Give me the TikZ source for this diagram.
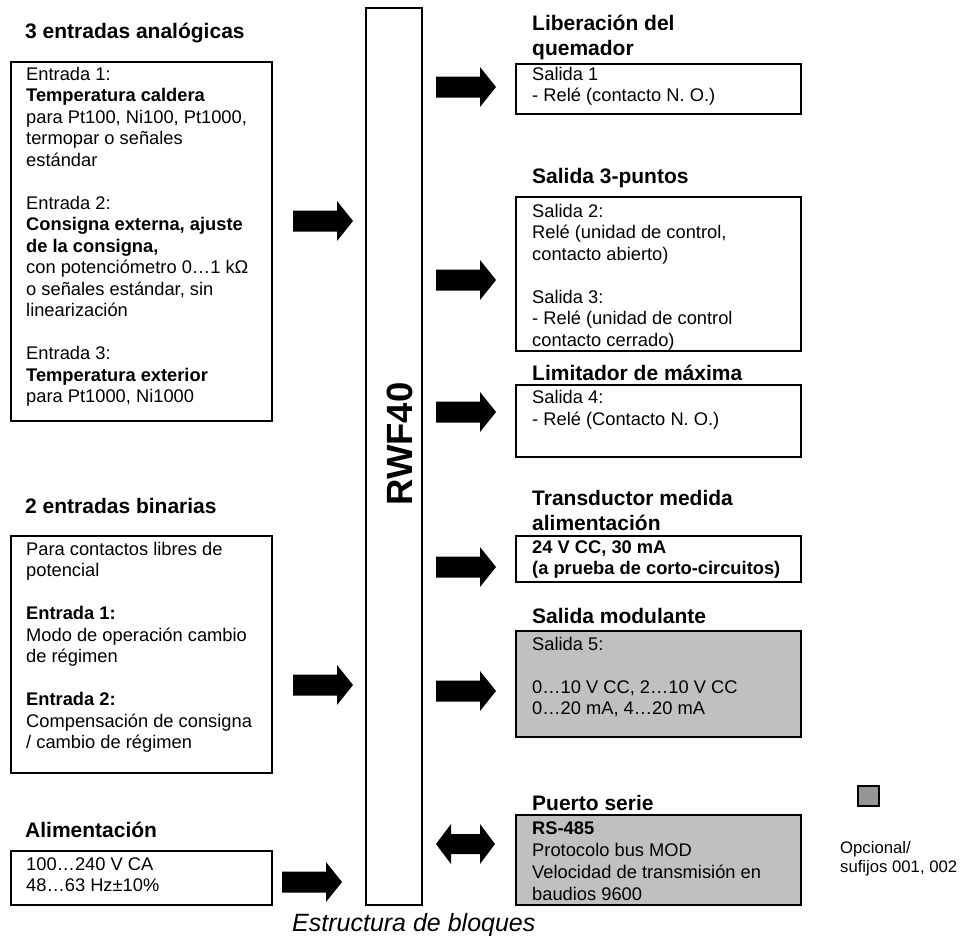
\documentclass[tikz,border=0pt]{standalone}
\usepackage{fontspec}
\setmainfont{Liberation Sans}
\definecolor{boxgrey}{RGB}{192,192,192}
\definecolor{leggrey}{RGB}{150,150,150}
\tikzset{
  blk/.style={draw=black, line width=2pt, inner sep=0pt, outer sep=0pt, anchor=north west},
  body/.style={font=\fontsize{18.3}{21.5}\selectfont, align=left, inner sep=0pt, anchor=north west},
  ttl/.style={font=\bfseries\fontsize{21}{24}\selectfont, inner sep=0pt, anchor=base west},
  barrow/.pic={\fill[black] (0,-10.5) -- (44,-10.5) -- (44,-20) -- (60,0) -- (44,20) -- (44,10.5) -- (0,10.5) -- cycle;},
  darrow/.pic={\fill[black] (0,0) -- (15,-20) -- (15,-10) -- (44,-10) -- (44,-20) -- (59,0) -- (44,20) -- (44,10) -- (15,10) -- (15,20) -- cycle;}
}
\begin{document}
\begin{tikzpicture}[x=1pt,y=-1pt]
\useasboundingbox (0,0) rectangle (971,935);

% boxes
\node[blk, minimum width=261pt, minimum height=359pt] (in1) at (11,62) {};
\node[blk, minimum width=261pt, minimum height=237pt] (in2) at (11,536) {};
\node[blk, minimum width=261pt, minimum height=54pt] (in3) at (11,851) {};
\node[blk, minimum width=56pt, minimum height=897pt] (rwf) at (366,8) {};
\node[blk, minimum width=285pt, minimum height=49.5pt] (o1) at (516,64) {};
\node[blk, minimum width=285pt, minimum height=154pt] (o2) at (516,197) {};
\node[blk, minimum width=285pt, minimum height=72pt] (o3) at (516,385) {};
\node[blk, minimum width=285pt, minimum height=46pt] (o4) at (516,536) {};
\node[blk, fill=boxgrey, minimum width=285pt, minimum height=106pt] (o5) at (516,631) {};
\node[blk, fill=boxgrey, minimum width=285pt, minimum height=90pt] (o6) at (516,815) {};
\node[blk, line width=1.5pt, fill=leggrey, minimum width=21pt, minimum height=20pt] (leg) at (858,786) {};

% titles
\node[ttl] (tin1) at (25,38) {3 entradas analógicas};
\node[ttl] (tin2) at (25,513) {2 entradas binarias};
\node[ttl] (tin3) at (25,837) {Alimentación};
\node[ttl] (to1a) at (532,30) {Liberación del};
\node[ttl] (to1b) at (532,55) {quemador};
\node[ttl] (to2) at (532,183) {Salida 3-puntos};
\node[ttl] (to3) at (532,380) {Limitador de máxima};
\node[ttl] (to4a) at (532,505) {Transductor medida};
\node[ttl] (to4b) at (532,530) {alimentación};
\node[ttl] (to5) at (532,623) {Salida modulante};
\node[ttl] (to6) at (532,810) {Puerto serie};

% body texts
\node[body] (xin1) at (26,64.95) {\strut Entrada 1:\\
\textbf{Temperatura caldera}\\
para Pt100, Ni100, Pt1000,\\
termopar o señales\\
estándar\\[21.5pt]
Entrada 2:\\
\textbf{Consigna externa, ajuste}\\
\textbf{de la consigna,}\\
con potenciómetro 0…1 kΩ\\
o señales estándar, sin\\
linearización\\[21.5pt]
Entrada 3:\\
\textbf{Temperatura exterior}\\
para Pt1000, Ni1000};

\node[body] (xin2) at (26,539.95) {\strut Para contactos libres de\\
potencial\\[21.5pt]
\textbf{Entrada 1:}\\
Modo de operación cambio\\
de régimen\\[21.5pt]
\textbf{Entrada 2:}\\
Compensación de consigna\\
/ cambio de régimen};

\node[body] (xin3) at (26,854.95) {\strut 100…240 V CA\\48…63 Hz±10\%};

\node[body] (xo1) at (532,64.95) {\strut Salida 1\\- Relé (contacto N. O.)};
\node[body] (xo2) at (532,201.95) {\strut Salida 2:\\
Relé (unidad de control,\\
contacto abierto)\\[21.5pt]
Salida 3:\\
- Relé (unidad de control\\
contacto cerrado)};
\node[body] (xo3) at (532,388.45) {\strut Salida 4:\\- Relé (Contacto N. O.)};
\node[body, font=\bfseries\fontsize{18.3}{21.5}\selectfont] (xo4) at (532,537.95) {\strut 24 V CC, 30 mA\\(a prueba de corto-circuitos)};
\node[body] (xo5) at (532,634.95) {\strut Salida 5:\\[21.5pt]
0…10 V CC, 2…10 V CC\\
0…20 mA, 4…20 mA};
\node[body, font=\fontsize{18.3}{22}\selectfont] (xo6) at (532,818.6) {\strut\textbf{RS-485}\\
Protocolo bus MOD\\
Velocidad de transmisión en\\
baudios 9600};

\node[body, font=\fontsize{16.7}{19}\selectfont] (legtxt) at (840,839.7) {\strut Opcional/\\sufijos 001, 002};

% central label
\node[rotate=90, font=\bfseries\fontsize{36.5}{40}\selectfont, inner sep=0pt] (rwflbl) at (399.5,444) {RWF40};

% caption
\node[font=\itshape\fontsize{25}{28}\selectfont, anchor=base west, inner sep=0pt] (cap) at (292,931) {Estructura de bloques};

% block arrows
\pic (ain1) at (293,221) {barrow};
\pic (ain2) at (293,685) {barrow};
\pic (ain3) at (282,882) {barrow};
\pic (aout1) at (436,87) {barrow};
\pic (aout2) at (436,280) {barrow};
\pic (aout3) at (436,412) {barrow};
\pic (aout4) at (436,567) {barrow};
\pic (aout5) at (436,691) {barrow};
\pic (aser) at (436,844) {darrow};
\end{tikzpicture}
\end{document}
